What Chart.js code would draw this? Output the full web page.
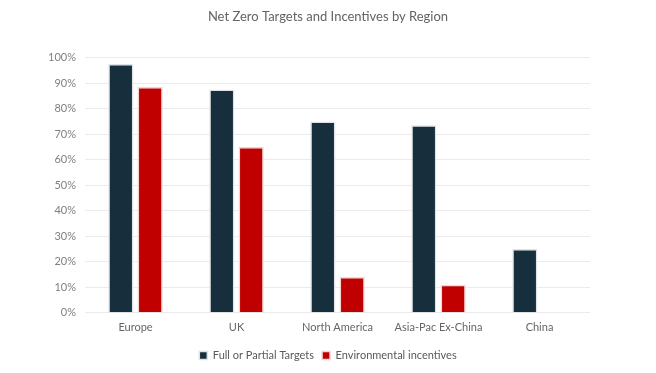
<!DOCTYPE html>
<html>
<head>
<meta charset="utf-8">
<script src="https://cdn.jsdelivr.net/npm/chart.js@4"></script>
<style>
html,body{margin:0;padding:0;background:#fff;}
#wrap{width:656px;height:373px;position:relative;}
</style>
</head>
<body>
<div id="wrap"><canvas id="c" width="656" height="373"></canvas></div>
<script>
const categories = ["Europe", "UK", "North America", "Asia-Pac Ex-China", "China"];
const fullTargets = [97.5, 87.5, 75, 73.5, 25];
const envIncentives = [88.5, 65, 14, 11, null];
const seriesNames = ["Full or Partial Targets", "Environmental incentives"];
const yTicks = [0, 10, 20, 30, 40, 50, 60, 70, 80, 90, 100];

const FONT = "Lato, 'Open Sans', sans-serif";

new Chart(document.getElementById('c'), {
  type: 'bar',
  data: {
    labels: categories,
    datasets: [
      { label: seriesNames[0], data: fullTargets, backgroundColor: '#172f3c', borderColor: '#dfe3e6', borderWidth: 1.5, categoryPercentage: 0.58, barPercentage: 0.86 },
      { label: seriesNames[1], data: envIncentives, backgroundColor: '#c00000', borderColor: '#f6d3d3', borderWidth: 1.5, categoryPercentage: 0.58, barPercentage: 0.86 }
    ]
  },
  options: {
    responsive: false,
    animation: false,
    layout: { padding: { left: 0, right: 0, top: 0, bottom: 2 } },
    plugins: {
      title: { display: true, text: 'Net Zero Targets and Incentives by Region', color: '#646464', font: { family: FONT, size: 13, weight: 'normal' }, padding: { top: 9, bottom: 33 } },
      legend: { position: 'bottom', labels: { boxWidth: 8, boxHeight: 8, color: '#595959', font: { family: FONT, size: 11 }, padding: 8 } },
      tooltip: { enabled: false }
    },
    scales: {
      x: {
        grid: { display: false, drawTicks: false },
        border: { display: false },
        ticks: { color: '#666', font: { family: FONT, size: 11 }, padding: 8, maxRotation: 0 }
      },
      y: {
        min: 0, max: 100,
        afterBuildTicks: (a) => { a.ticks = yTicks.map(v => ({ value: v })); },
        afterFit: (a) => { a.width = 85; },
        grid: { color: '#ebebeb', lineWidth: 1, drawTicks: false },
        border: { display: false },
        ticks: { color: '#7f7f7f', font: { family: FONT, size: 11 }, padding: 9, callback: v => v + '%' }
      },
      yRight: {
        position: 'right',
        min: 0, max: 100,
        afterFit: (a) => { a.width = 66; },
        grid: { display: false, drawTicks: false },
        border: { display: false },
        ticks: { display: false }
      }
    }
  }
});
</script>
</body>
</html>
